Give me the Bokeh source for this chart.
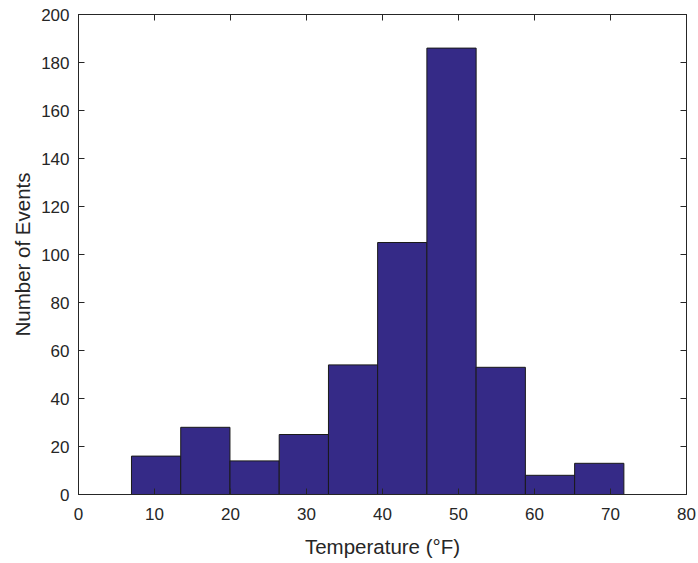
from bokeh.plotting import figure
from bokeh.models import LinearAxis, FixedTicker, Range1d, ColumnDataSource, CustomJSTickFormatter
from bokeh.embed import file_html
from bokeh.resources import INLINE

bin_edges = [6.97, 13.45, 19.93, 26.41, 32.89, 39.36, 45.84, 52.32, 58.80, 65.28, 71.76]
counts = [16, 28, 14, 25, 54, 105, 186, 53, 8, 13]
x_ticks = [0, 10, 20, 30, 40, 50, 60, 70, 80]
y_ticks = [0, 20, 40, 60, 80, 100, 120, 140, 160, 180, 200]

FONT = "Liberation Sans"
TXT = "#262626"

src = ColumnDataSource(dict(left=bin_edges[:-1], right=bin_edges[1:],
                            top=counts, bottom=[0] * len(counts)))

p = figure(width=698, height=563, output_backend="svg", toolbar_location=None,
           x_range=Range1d(0, 80), y_range=Range1d(0, 200),
           min_border_left=78, min_border_right=12, min_border_top=14, min_border_bottom=69,
           x_axis_label="Temperature (°F)", y_axis_label="Number of Events")
p.background_fill_color = "white"
p.border_fill_color = "white"
p.outline_line_color = TXT
p.outline_line_width = 1
p.xgrid.visible = False
p.ygrid.visible = False

p.quad(left="left", right="right", top="top", bottom="bottom", source=src,
       fill_color="#352A87", line_color="#1a1a1a", line_width=1)

for ax, ticks in ((p.xaxis[0], x_ticks), (p.yaxis[0], y_ticks)):
    ax.ticker = FixedTicker(ticks=ticks)
    ax.major_tick_in = 6
    ax.major_tick_out = 0
    ax.minor_tick_in = 0
    ax.minor_tick_out = 0
    ax.axis_line_color = TXT
    ax.major_tick_line_color = TXT
    ax.major_label_text_font = FONT
    ax.major_label_text_font_size = "17px"
    ax.major_label_text_color = TXT
    ax.axis_label_text_font = FONT
    ax.axis_label_text_font_size = "20.5px"
    ax.axis_label_text_font_style = "normal"
    ax.axis_label_text_color = TXT

p.xaxis[0].major_label_standoff = 13
p.xaxis[0].axis_label_standoff = 12
p.yaxis[0].major_label_standoff = 9
p.yaxis[0].axis_label_standoff = 4

top_ax = LinearAxis(ticker=FixedTicker(ticks=x_ticks),
                    formatter=CustomJSTickFormatter(code="return ''"))
right_ax = LinearAxis(ticker=FixedTicker(ticks=y_ticks),
                      formatter=CustomJSTickFormatter(code="return ''"))
for ax in (top_ax, right_ax):
    ax.major_tick_in = 6
    ax.major_tick_out = 0
    ax.minor_tick_in = 0
    ax.minor_tick_out = 0
    ax.major_label_standoff = 0
    ax.axis_line_color = TXT
    ax.major_tick_line_color = TXT
p.add_layout(top_ax, "above")
p.add_layout(right_ax, "right")

open("out.html", "w").write(file_html(p, INLINE))
